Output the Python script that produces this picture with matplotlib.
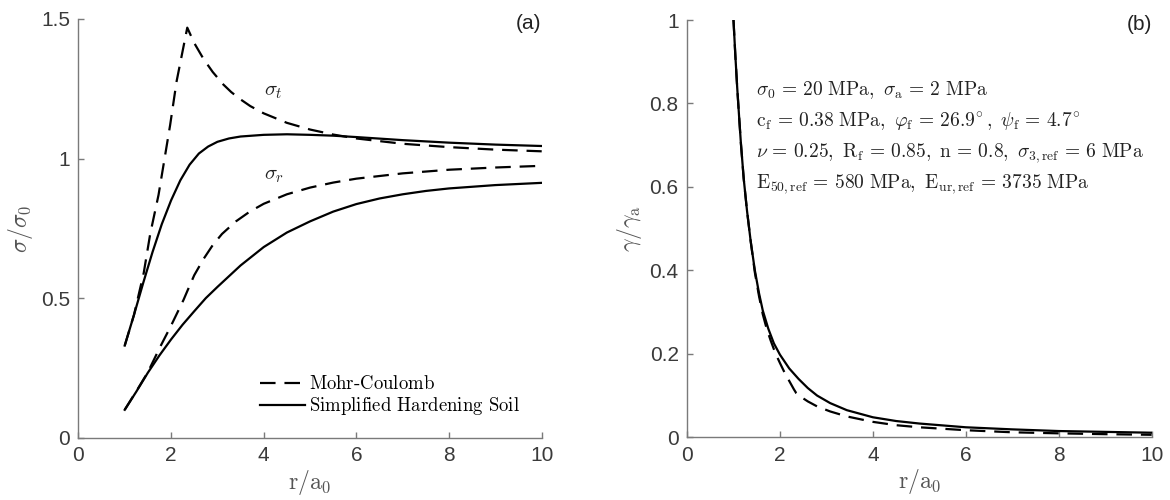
import matplotlib
matplotlib.use("Agg")
import matplotlib.pyplot as plt

plt.rcParams['mathtext.fontset'] = 'cm'
plt.rcParams['font.family'] = ['Liberation Sans', 'DejaVu Sans']

# (a) stresses, Mohr-Coulomb (dashed) and Simplified Hardening Soil (solid)
r_st_mc = [1.0, 1.2, 1.41, 1.55, 1.73, 1.98, 2.12, 2.35, 2.5, 2.7, 2.9, 3.13, 3.3, 3.5, 3.71,
           4.0, 4.5, 5.0, 5.5, 6.0, 7.0, 8.0, 9.0, 10.0]
st_mc = [0.33, 0.44, 0.59, 0.73, 0.87, 1.12, 1.277, 1.469, 1.414, 1.357, 1.31, 1.265, 1.238,
         1.212, 1.188, 1.162, 1.128, 1.104, 1.086, 1.072, 1.053, 1.041, 1.032, 1.026]
r_st_hs = [1.0, 1.2, 1.4, 1.6, 1.8, 2.0, 2.2, 2.4, 2.6, 2.8, 3.0, 3.25, 3.5, 4.0, 4.5, 5.0,
           5.5, 6.0, 7.0, 8.0, 9.0, 10.0]
st_hs = [0.33, 0.44, 0.555, 0.665, 0.765, 0.85, 0.922, 0.978, 1.018, 1.043, 1.06, 1.072, 1.079,
         1.085, 1.087, 1.085, 1.082, 1.077, 1.066, 1.057, 1.05, 1.045]
r_sr_mc = [1.0, 1.3, 1.5, 1.77, 1.99, 2.27, 2.35, 2.5, 2.7, 2.9, 3.1, 3.4, 3.7, 4.0, 4.5, 5.0,
           5.5, 6.0, 7.0, 8.0, 9.0, 10.0]
sr_mc = [0.10, 0.18, 0.235, 0.327, 0.398, 0.494, 0.525, 0.582, 0.64, 0.69, 0.73, 0.775, 0.81,
         0.838, 0.872, 0.896, 0.914, 0.928, 0.947, 0.96, 0.968, 0.974]
r_sr_hs = [1.0, 1.25, 1.5, 1.75, 2.0, 2.25, 2.5, 2.75, 3.0, 3.5, 4.0, 4.5, 5.0, 5.5, 6.0, 6.5,
           7.0, 7.5, 8.0, 9.0, 10.0]
sr_hs = [0.10, 0.165, 0.233, 0.295, 0.352, 0.405, 0.453, 0.50, 0.54, 0.617, 0.683, 0.735, 0.775,
         0.81, 0.837, 0.857, 0.872, 0.884, 0.893, 0.905, 0.913]

# (b) shear strain
r_g_hs = [1.0, 1.04, 1.08, 1.12, 1.16, 1.22, 1.29, 1.37, 1.46, 1.55, 1.63, 1.75, 1.87, 2.0,
          2.2, 2.4, 2.6, 2.8, 3.08, 3.44, 4.0, 4.5, 5.0, 6.0, 7.0, 8.0, 9.0, 10.0]
g_hs = [1.0, 0.915, 0.838, 0.77, 0.704, 0.62, 0.544, 0.47, 0.40, 0.345, 0.304, 0.26, 0.225,
        0.198, 0.165, 0.14, 0.118, 0.10, 0.082, 0.065, 0.048, 0.039, 0.033, 0.024, 0.019,
        0.015, 0.013, 0.011]
r_g_mc = [1.0, 1.04, 1.08, 1.12, 1.16, 1.22, 1.29, 1.37, 1.46, 1.55, 1.63, 1.71, 1.8, 1.9, 2.0,
          2.1, 2.2, 2.3, 2.35, 2.45, 2.6, 2.8, 3.08, 3.44, 4.0, 4.5, 5.0, 6.0, 7.0, 8.0, 9.0, 10.0]
g_mc = [1.0, 0.915, 0.838, 0.77, 0.704, 0.62, 0.544, 0.47, 0.395, 0.338, 0.295, 0.262, 0.232,
        0.202, 0.178, 0.155, 0.135, 0.115, 0.106, 0.097, 0.086, 0.074, 0.062, 0.050, 0.037,
        0.029, 0.024, 0.017, 0.012, 0.0095, 0.0075, 0.006]

params = [r'$\sigma_0\,=\,20\ \mathrm{MPa},\ \sigma_\mathrm{a}\,=\,2\ \mathrm{MPa}$',
          r'$\mathrm{c_f}\,=\,0.38\ \mathrm{MPa},\ \varphi_\mathrm{f}\,=\,26.9^{\!\circ},\ \psi_\mathrm{f}\,=\,4.7^{\!\circ}$',
          r'$\nu\,=\,0.25,\ \mathrm{R_f}\,=\,0.85,\ \mathrm{n}\,=\,0.8,\ \sigma_\mathrm{3,ref}\,=\,6\ \mathrm{MPa}$',
          r'$\mathrm{E_{50,ref}}\,=\,580\ \mathrm{MPa},\ \mathrm{E_{ur,ref}}\,=\,3735\ \mathrm{MPa}$']
legend_labels = [r'$\text{Mohr-Coulomb}$', r'$\text{Simplified Hardening Soil}$']

dash = (0, (7, 4))
axcol = '#7a7a7a'
txtcol = '#3a3a3a'

fig = plt.figure(figsize=(11.7, 5), dpi=100)
ax1 = fig.add_axes([0.0670, 0.1246, 0.3960, 0.8374])
ax2 = fig.add_axes([0.5872, 0.1254, 0.3971, 0.8346])

for ax in (ax1, ax2):
    for s in ('top', 'right'):
        ax.spines[s].set_visible(False)
    for s in ('left', 'bottom'):
        ax.spines[s].set_color(axcol)
        ax.spines[s].set_linewidth(1.0)
    ax.tick_params(direction='in', length=4, width=1.0, color=axcol,
                   labelcolor=txtcol, labelsize=15, pad=6)
    ax.set_xlim(0, 10)
    ax.set_xticks([0, 2, 4, 6, 8, 10])
    ax.set_xlabel(r'$\mathrm{r}/\mathrm{a}_0$', fontsize=17, color='#555555', labelpad=2)

# panel (a)
ax1.plot(r_st_mc, st_mc, color='black', lw=1.6, ls=dash, label=legend_labels[0])
ax1.plot(r_st_hs, st_hs, color='black', lw=1.6, label=legend_labels[1])
ax1.plot(r_sr_mc, sr_mc, color='black', lw=1.6, ls=dash)
ax1.plot(r_sr_hs, sr_hs, color='black', lw=1.6)
ax1.set_ylim(0, 1.5)
ax1.set_yticks([0, 0.5, 1, 1.5])
ax1.set_yticklabels(['0', '0.5', '1', '1.5'])
ax1.set_ylabel(r'$\sigma/\sigma_0$', fontsize=17, color='#555555', labelpad=4)
ax1.text(4.0, 1.24, r'$\sigma_t$', fontsize=15, color='#222222', va='center')
ax1.text(4.0, 0.94, r'$\sigma_r$', fontsize=15, color='#222222', va='center')
ax1.text(10, 1.485, '(a)', fontsize=15, color='#222222', ha='right', va='center')
ax1.legend(loc='lower left', bbox_to_anchor=(0.355, 0.008), frameon=False,
           handlelength=2.4, handletextpad=0.25, labelspacing=0.12,
           prop={'size': 13.5})

# panel (b)
ax2.plot(r_g_mc, g_mc, color='black', lw=1.6, ls=dash)
ax2.plot(r_g_hs, g_hs, color='black', lw=1.6)
ax2.set_ylim(0, 1)
ax2.set_yticks([0, 0.2, 0.4, 0.6, 0.8, 1])
ax2.set_yticklabels(['0', '0.2', '0.4', '0.6', '0.8', '1'])
ax2.set_ylabel(r'$\gamma/\gamma_\mathrm{a}$', fontsize=17, color='#555555', labelpad=4)
ax2.text(10, 0.99, '(b)', fontsize=15, color='#222222', ha='right', va='center')
for i, s in enumerate(params):
    ax2.text(1.48, 0.832 - i * 0.075, s, fontsize=14, color='#222222', va='center')

fig.savefig('out.png', dpi=100)
